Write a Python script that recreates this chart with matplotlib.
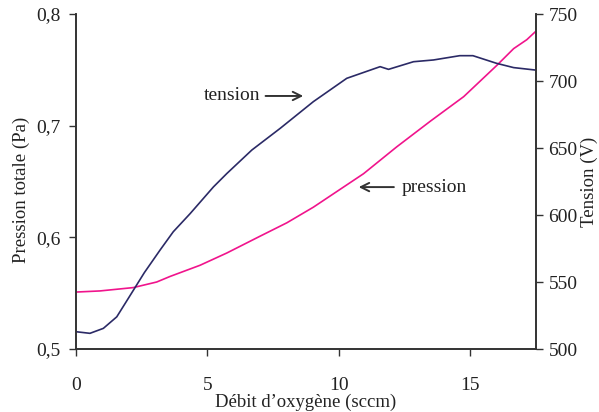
import matplotlib.pyplot as plt
from matplotlib.ticker import FuncFormatter

plt.rcParams['font.family'] = ['Liberation Serif', 'DejaVu Serif']

# Pression totale (Pa) vs débit d'oxygène
debit_p = [0.0, 0.91, 2.18, 3.07, 3.58, 4.72, 5.74, 7.0, 8.02, 9.03, 10.94,
           12.2, 13.48, 14.75, 16.01, 16.65, 17.15, 17.47]
pression = [0.551, 0.552, 0.555, 0.560, 0.565, 0.575, 0.586, 0.601, 0.613,
            0.627, 0.657, 0.681, 0.704, 0.726, 0.754, 0.769, 0.777, 0.784]

# Tension (V) vs débit d'oxygène
debit_t = [0.0, 0.53, 1.04, 1.55, 1.99, 2.6, 3.2, 3.7, 4.34, 5.23, 5.74, 6.69,
           7.77, 9.03, 10.3, 11.57, 11.89, 12.84, 13.6, 14.6, 15.1, 16.0,
           16.65, 17.47]
tension = [512.9, 511.7, 515.4, 524.0, 537.8, 557.0, 573.9, 587.5, 601.0,
           621.0, 631.0, 648.5, 664.7, 684.6, 702.0, 710.7, 708.7, 714.4,
           715.7, 718.9, 718.9, 713.2, 710.0, 708.2]

x_ticks = [0, 5, 10, 15]
p_ticks = [0.5, 0.6, 0.7, 0.8]
t_ticks = [500, 550, 600, 650, 700, 750]

axis_col = '#333333'
txt_col = '#222222'
fs = 14
lab_fs = 13.5

fig = plt.figure(figsize=(5.99, 4.12), dpi=100)
ax = fig.add_axes([0.1269, 0.1529, 0.7679, 0.8131])
ax2 = ax.twinx()

ax.plot(debit_p, pression, color='#f0148c', lw=1.2)
ax2.plot(debit_t, tension, color='#2b2a66', lw=1.2)

ax.set_xlim(0, 17.5)
ax.set_ylim(0.5, 0.8)
ax2.set_ylim(500, 750)
ax.set_xticks(x_ticks)
ax.set_yticks(p_ticks)
ax2.set_yticks(t_ticks)
ax.yaxis.set_major_formatter(FuncFormatter(lambda v, _: f'{v:.1f}'.replace('.', ',')))

for a in (ax, ax2):
    a.spines['top'].set_visible(False)
    for s in a.spines.values():
        s.set_color(axis_col)
        s.set_linewidth(1.2)
    a.tick_params(colors=axis_col, labelcolor=txt_col, labelsize=fs,
                  length=5, width=1.0, pad=6)
ax.tick_params(axis='x', pad=15)
ax2.tick_params(axis='y', pad=4)

ax.set_xlabel("Débit d\u2019oxygène (sccm)", fontsize=lab_fs, color=txt_col, labelpad=0)
ax.set_ylabel('Pression totale (Pa)', fontsize=lab_fs, color=txt_col)
ax.yaxis.set_label_coords(-0.1, 0.475)
ax2.set_ylabel('Tension (V)', fontsize=lab_fs, color=txt_col)
ax2.yaxis.set_label_coords(1.097, 0.5)

arrow = dict(arrowstyle='->', color=axis_col, lw=1.4, mutation_scale=15)
ax.annotate('tension', xy=(8.75, 0.7266), xytext=(7.0, 0.7266),
            fontsize=fs, color=txt_col, ha='right', va='center',
            arrowprops=arrow)
ax.annotate('', xy=(10.65, 0.645), xytext=(12.2, 0.645), arrowprops=arrow)
ax.text(12.4, 0.645, 'pression', fontsize=fs, color=txt_col, ha='left', va='center')

fig.savefig('out.png', dpi=100)
